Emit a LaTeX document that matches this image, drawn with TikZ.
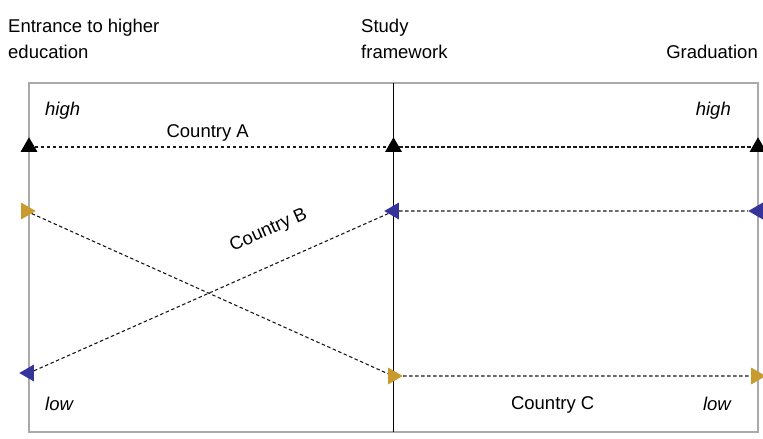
\documentclass[tikz,border=0pt]{standalone}
\usepackage{fontspec}
\setmainfont{Liberation Sans}
\usetikzlibrary{positioning,shapes.geometric}
\definecolor{markGold}{HTML}{C99A2E}
\definecolor{markBlue}{HTML}{34349A}
\definecolor{frameGray}{HTML}{AAAAAA}

\begin{document}
\begin{tikzpicture}[x=1pt,y=-1pt,font=\fontsize{18.5}{26}\selectfont,
    tri/.style={regular polygon,regular polygon sides=3,minimum size=19.5pt,inner sep=0pt},
    triup/.style={tri,fill=black},
    triright/.style={tri,fill=markGold,rotate=-90},
    trileft/.style={tri,fill=markBlue,rotate=90},
    link/.style={dash pattern=on 3.5pt off 2.5pt,line width=1.1pt,black!90},
    lbl/.style={inner sep=0pt,text=black}]
    \useasboundingbox (0,0) rectangle (763,439);
    % frame and time axis
    \draw[frameGray,line width=1.8pt] (29,83) rectangle (758,432);
    \draw[line width=1.1pt] (393.5,83) -- (393.5,432);
    % headings
    \node[lbl,anchor=north west,align=left] (entry) at (8,18.5) {Entrance to higher\\education};
    \node[lbl,anchor=north west,align=left] (study) at (361,18.5) {Study\\framework};
    \node[lbl,anchor=base east] (grad) at (758,58) {Graduation};
    \node[lbl,anchor=base west] (hiL) at (45,115) {\itshape high};
    \node[lbl,anchor=base east] (hiR) at (731,115) {\itshape high};
    \node[lbl,anchor=base west] (loL) at (45,410) {\itshape low};
    \node[lbl,anchor=base east] (loR) at (731,410) {\itshape low};
    % markers
    \node[triup] (a1) at (29,147) {};
    \node[triup] (a2) at (393.5,147) {};
    \node[triup] (a3) at (758,147) {};
    \node[trileft] (b1) at (29,373) {};
    \node[trileft] (b2) at (394,211) {};
    \node[trileft] (b3) at (758,211) {};
    \node[triright] (c1) at (26,211) {};
    \node[triright] (c2) at (393,376) {};
    \node[triright] (c3) at (756,376) {};
    % countries
    \draw[link] (a1) -- node[lbl,pos=0.49,above=5.5pt] {Country A} (a2) -- (a3);
    \draw[link] (b1) -- node[lbl,pos=0.7,sloped,above=24pt] {Country B} (b2) -- (b3);
    \draw[link] (c1) -- (c2) -- node[lbl,pos=0.43,below=20.5pt] {Country C} (c3);
\end{tikzpicture}
\end{document}
